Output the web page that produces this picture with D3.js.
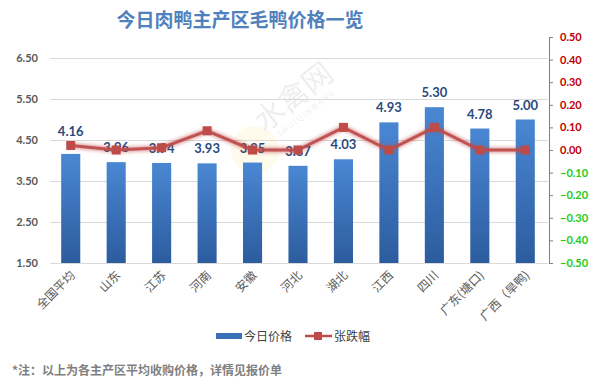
<!DOCTYPE html>
<html lang="zh">
<head>
    <meta charset="UTF-8">
    <title>今日肉鸭主产区毛鸭价格一览</title>
    <script src="https://d3js.org/d3.v7.min.js"></script>
    <style>
        body { margin: 0; background: #fff; }
        svg { display: block; font-family: "Noto Sans CJK SC", "Noto Sans", sans-serif; }
        .num { font-family: Lato, "Open Sans", sans-serif; }
    </style>
</head>
<body>
    <svg id="chart" width="597" height="387"></svg>
    <script>
        // data
        const regions = ["全国平均", "山东", "江苏", "河南", "安徽", "河北", "湖北", "江西", "四川", "广东(塘口)", "广西（旱鸭)"];
        const prices = [4.16, 3.96, 3.94, 3.93, 3.95, 3.87, 4.03, 4.93, 5.30, 4.78, 5.00];
        const changes = [0.02, 0.00, 0.01, 0.085, 0.00, 0.00, 0.10, 0.00, 0.10, 0.00, 0.00];
        const leftTicks = [1.5, 2.5, 3.5, 4.5, 5.5, 6.5];
        const rightTicks = [0.5, 0.4, 0.3, 0.2, 0.1, 0, -0.1, -0.2, -0.3, -0.4, -0.5];

        const svg = d3.select("#chart");

        const x = d3.scaleBand().domain(regions).range([48, 548]).paddingInner(0.58).paddingOuter(0.29);
        const y = d3.scaleLinear().domain([1.5, 6.5]).range([263, 58]);
        const y2 = d3.scaleLinear().domain([-0.5, 0.5]).range([263, 37]);

        const defs = svg.append("defs");
        const grad = defs.append("linearGradient").attr("id", "barGrad")
            .attr("x1", 0).attr("y1", 0).attr("x2", 0).attr("y2", 1);
        grad.append("stop").attr("offset", "0%").attr("stop-color", "#4a87d3");
        grad.append("stop").attr("offset", "100%").attr("stop-color", "#2c5c9e");
        const glow = defs.append("filter").attr("id", "glow").attr("x", "-20%").attr("y", "-50%").attr("width", "140%").attr("height", "200%");
        glow.append("feGaussianBlur").attr("in", "SourceGraphic").attr("stdDeviation", 2.2).attr("result", "b");
        const fm = glow.append("feMerge");
        fm.append("feMergeNode").attr("in", "b");
        fm.append("feMergeNode").attr("in", "SourceGraphic");

        // title
        svg.append("text")
            .attr("x", 240).attr("y", 27)
            .attr("text-anchor", "middle")
            .attr("font-size", 19).attr("font-weight", "bold")
            .attr("fill", "#4f81bd")
            .text("今日肉鸭主产区毛鸭价格一览");

        // watermark
        const wm = svg.append("g").attr("transform", "translate(300,105) rotate(-38)").attr("opacity", 0.13);
        wm.append("text").attr("text-anchor", "middle").attr("font-size", 30).attr("fill", "#7f7f7f").text("水禽网");
        wm.append("text").attr("y", 13).attr("text-anchor", "middle").attr("font-size", 8).attr("fill", "#7f7f7f")
            .attr("letter-spacing", 1.5).text("SHUIQINWANG");
        svg.append("circle").attr("cx", 255).attr("cy", 150).attr("r", 24)
            .attr("fill", "#f6d365").attr("opacity", 0.12);

        // left axis + grid
        const gy = svg.append("g").attr("transform", "translate(50,0)")
            .call(d3.axisLeft(y).tickValues(leftTicks).tickSize(-498).tickFormat(d3.format(".2f")));
        gy.select(".domain").remove();
        gy.selectAll(".tick line").attr("stroke", "#d9d9d9");
        gy.selectAll(".tick text").attr("x", -12).attr("fill", "#595959")
            .attr("font-size", 11).attr("font-weight", "bold").attr("class", "num");

        // right axis
        const gr = svg.append("g").attr("transform", "translate(549,0)")
            .call(d3.axisRight(y2).tickValues(rightTicks).tickSize(4).tickFormat(d3.format(".2f")));
        gr.select(".domain").attr("stroke", "#7f7f7f");
        gr.selectAll(".tick line").attr("stroke", "#7f7f7f");
        gr.selectAll(".tick text").attr("x", 11)
            .attr("fill", d => d < 0 ? "#22cc22" : "#c00000")
            .attr("font-size", 11).attr("font-weight", "bold").attr("class", "num");

        // bars
        svg.selectAll("rect.bar").data(prices).enter().append("rect")
            .attr("class", "bar")
            .attr("x", (d, i) => x(regions[i]))
            .attr("y", d => y(d))
            .attr("width", x.bandwidth())
            .attr("height", d => y(1.5) - y(d))
            .attr("fill", "url(#barGrad)");

        // bar labels
        svg.selectAll("text.blab").data(prices).enter().append("text")
            .attr("class", "blab num")
            .attr("x", (d, i) => x(regions[i]) + x.bandwidth() / 2)
            .attr("y", (d, i) => y(d) - (i === 0 ? 18 : 10))
            .attr("text-anchor", "middle")
            .attr("font-size", 13).attr("font-weight", "bold")
            .attr("fill", "#2a4a7c")
            .text(d => d.toFixed(2));

        // change line
        const line = d3.line()
            .x((d, i) => x(regions[i]) + x.bandwidth() / 2)
            .y(d => y2(d));
        svg.append("path").datum(changes)
            .attr("d", line)
            .attr("fill", "none")
            .attr("stroke", "#be4b48")
            .attr("stroke-width", 3)
            .attr("filter", "url(#glow)")
            .attr("opacity", 0.95);
        svg.selectAll("rect.mk").data(changes).enter().append("rect")
            .attr("class", "mk")
            .attr("x", (d, i) => x(regions[i]) + x.bandwidth() / 2 - 4.5)
            .attr("y", d => y2(d) - 4.5)
            .attr("width", 9).attr("height", 9)
            .attr("fill", "#be4b48");

        // x labels
        svg.selectAll("text.xl").data(regions).enter().append("text")
            .attr("class", "xl")
            .attr("transform", d => `translate(${x(d) + x.bandwidth() / 2 + 5},276) rotate(-45)`)
            .attr("text-anchor", "end")
            .attr("font-size", 12)
            .attr("fill", "#595959")
            .text(d => d);

        // legend
        const lg = svg.append("g");
        lg.append("rect").attr("x", 216).attr("y", 333).attr("width", 26).attr("height", 6).attr("fill", "#3a70b8");
        lg.append("text").attr("x", 244).attr("y", 341).attr("font-size", 12).attr("fill", "#404040").text("今日价格");
        lg.append("line").attr("x1", 305).attr("x2", 332).attr("y1", 336).attr("y2", 336)
            .attr("stroke", "#be4b48").attr("stroke-width", 2.5);
        lg.append("rect").attr("x", 314).attr("y", 332).attr("width", 8).attr("height", 8).attr("fill", "#be4b48");
        lg.append("text").attr("x", 334).attr("y", 341).attr("font-size", 12).attr("fill", "#404040").text("张跌幅");

        // footnote
        svg.append("text")
            .attr("x", 12).attr("y", 375)
            .attr("font-size", 12).attr("font-weight", "bold")
            .attr("fill", "#7f7f7f")
            .text("*注：以上为各主产区平均收购价格，详情见报价单");
    </script>
</body>
</html>
